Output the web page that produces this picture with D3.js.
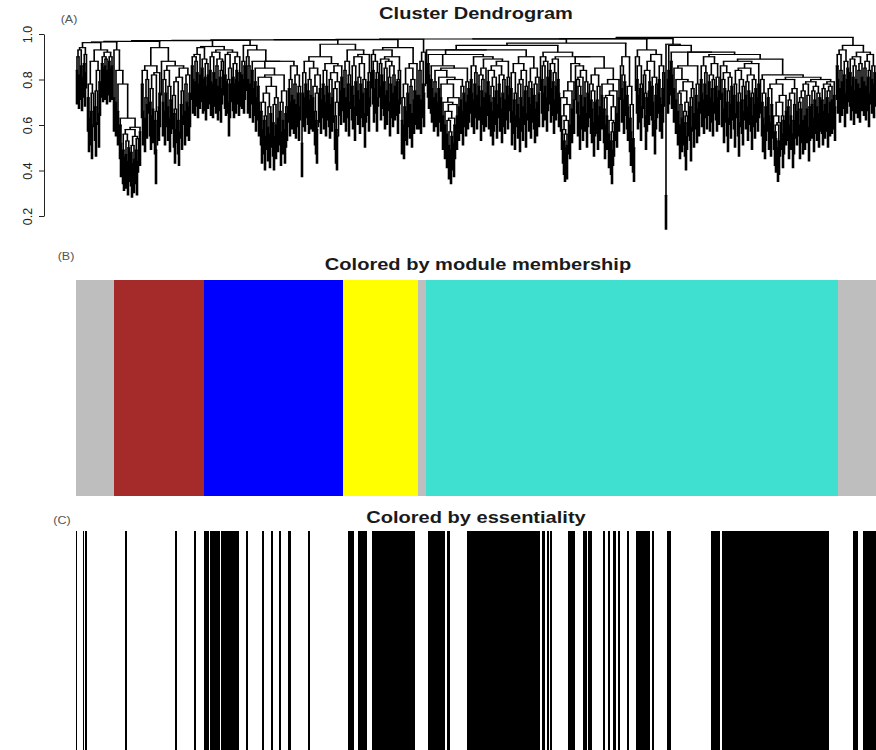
<!DOCTYPE html>
<html>
<head>
<meta charset="utf-8">
<script src="https://cdn.jsdelivr.net/npm/d3@7"></script>
<style>
  body { margin: 0; background: #fff; }
  svg { display: block; }
  text { font-family: "Liberation Sans", Arial, Helvetica, sans-serif; }
</style>
</head>
<body>
<svg id="chart" width="876" height="750"></svg>
<script>
// Height at which each pair of neighbouring genes (in dendrogram order) is joined.
const mergeHeights = [
  // genes 0-36
  0.84, 0.90, 0.82, 0.93, 0.86, 0.81, 0.94, 0.87, 0.83, 0.91, 0.962,
  0.72, 0.63, 0.78, 0.66, 0.60, 0.74, 0.88, 0.68, 0.61, 0.75, 0.84, 0.65, 0.79, 0.93,
  0.87, 0.85, 0.90, 0.86, 0.89, 0.84, 0.92, 0.88, 0.85, 0.90, 0.86, 0.965,
  // genes 37-114
  0.72, 0.93, 0.70, 0.84, 0.66, 0.78, 0.60, 0.52, 0.63, 0.49, 0.46, 0.56, 0.47, 0.53, 0.44, 0.50, 0.58, 0.48, 0.43, 0.51,
  0.45, 0.55, 0.49, 0.44, 0.54, 0.59, 0.57, 0.968,
  0.78, 0.66, 0.84, 0.63, 0.72, 0.69, 0.80, 0.86, 0.70, 0.64, 0.76, 0.67, 0.82, 0.62, 0.49, 0.66, 0.83, 0.68, 0.74, 0.94,
  0.88, 0.70, 0.80, 0.66, 0.74, 0.84, 0.68, 0.77, 0.63, 0.71, 0.86, 0.73, 0.65, 0.58, 0.67, 0.79, 0.62, 0.57, 0.81, 0.69,
  0.64, 0.75, 0.85, 0.66, 0.78, 0.70, 0.82, 0.68, 0.74, 0.971,
  // genes 115-169
  0.86, 0.80, 0.90, 0.79, 0.88, 0.83, 0.78, 0.91, 0.82, 0.94, 0.85, 0.80, 0.89, 0.81, 0.77, 0.87, 0.82, 0.945, 0.84, 0.79,
  0.90, 0.78, 0.83, 0.92, 0.80, 0.86, 0.77, 0.89, 0.81, 0.76, 0.84, 0.88, 0.93, 0.82, 0.79, 0.91, 0.80, 0.70, 0.78, 0.85,
  0.92, 0.81, 0.78, 0.87, 0.80, 0.84, 0.90, 0.79, 0.83, 0.972,
  0.82, 0.88, 0.80, 0.86, 0.95,
  // genes 170-224
  0.90, 0.80, 0.86, 0.78, 0.93, 0.84, 0.76, 0.88, 0.79, 0.72, 0.85, 0.77, 0.70, 0.81,
  0.66, 0.58, 0.70, 0.62, 0.55, 0.64, 0.74, 0.59, 0.68, 0.56, 0.65, 0.77, 0.61, 0.55, 0.69, 0.60, 0.72, 0.63, 0.82, 0.66,
  0.57, 0.70, 0.62, 0.75, 0.58, 0.65, 0.68, 0.88,
  0.76, 0.70, 0.80, 0.73, 0.86, 0.71, 0.78, 0.69, 0.82, 0.74, 0.68, 0.77, 0.974,
  // genes 225-294
  0.52, 0.74, 0.83, 0.72, 0.78, 0.88, 0.75, 0.71, 0.80, 0.73, 0.85, 0.72, 0.77, 0.66, 0.62, 0.58, 0.74, 0.82, 0.76, 0.71,
  0.90, 0.78, 0.73, 0.84, 0.70, 0.77, 0.87, 0.74, 0.69, 0.80, 0.72, 0.83, 0.76, 0.64, 0.58, 0.55, 0.70, 0.79, 0.86, 0.75,
  0.81, 0.955,
  0.76, 0.84, 0.72, 0.88, 0.78, 0.70, 0.82, 0.93, 0.77, 0.73, 0.86, 0.68, 0.79, 0.90, 0.75, 0.81, 0.71, 0.78, 0.87, 0.74,
  0.80, 0.65, 0.76, 0.91, 0.79, 0.72, 0.83, 0.975,
  // genes 295-349
  0.91, 0.84, 0.76, 0.88, 0.80, 0.72, 0.83, 0.93, 0.87, 0.77, 0.82, 0.89, 0.79, 0.73, 0.85, 0.75, 0.88, 0.81, 0.70, 0.78,
  0.86, 0.74, 0.82, 0.77, 0.90, 0.79, 0.71, 0.80, 0.84, 0.94,
  0.62, 0.72, 0.60, 0.68, 0.78, 0.66, 0.74, 0.85, 0.69, 0.77, 0.65, 0.80, 0.71, 0.75, 0.87, 0.73, 0.977,
  0.73, 0.84, 0.71, 0.88, 0.78, 0.74, 0.92, 0.978,
  // genes 350-463
  0.93, 0.87, 0.82, 0.91, 0.80, 0.76, 0.86, 0.72, 0.79, 0.74, 0.84, 0.70, 0.76, 0.81, 0.72, 0.78,
  0.64, 0.70, 0.60, 0.66, 0.56, 0.62, 0.51, 0.57, 0.49, 0.55, 0.63, 0.52, 0.60, 0.69, 0.64, 0.72,
  0.68, 0.80, 0.71, 0.77, 0.66, 0.74, 0.85, 0.70, 0.79, 0.73, 0.76, 0.91,
  0.80, 0.74, 0.86, 0.71, 0.78, 0.83, 0.73, 0.90, 0.77, 0.82, 0.68, 0.75, 0.80, 0.72, 0.85, 0.74, 0.89, 0.79, 0.73, 0.84,
  0.70, 0.77, 0.66, 0.72, 0.81, 0.75, 0.69, 0.86, 0.78, 0.72, 0.82, 0.67, 0.74, 0.80, 0.71, 0.88, 0.77, 0.73, 0.81, 0.93,
  0.76, 0.66, 0.83, 0.71, 0.64, 0.74, 0.87, 0.69, 0.78, 0.63, 0.72, 0.80, 0.68, 0.84, 0.75, 0.65, 0.77, 0.90, 0.72, 0.79,
  0.69, 0.76, 0.85, 0.73, 0.67, 0.78, 0.70, 0.81, 0.74, 0.95,
  // genes 464-558
  0.90, 0.80, 0.74, 0.86, 0.77, 0.88, 0.72, 0.81, 0.92, 0.84, 0.76, 0.87, 0.79, 0.71, 0.83, 0.77, 0.89, 0.80, 0.74, 0.90,
  0.72, 0.64, 0.58, 0.53, 0.50, 0.56, 0.51, 0.62, 0.69, 0.60, 0.75, 0.67, 0.79, 0.71, 0.87,
  0.86, 0.80, 0.70, 0.77, 0.64, 0.73, 0.81, 0.68, 0.84, 0.72, 0.79, 0.65, 0.74, 0.90, 0.78, 0.71, 0.67, 0.75, 0.61, 0.70,
  0.82, 0.71, 0.64, 0.77, 0.68, 0.85, 0.73, 0.78, 0.67, 0.60, 0.72, 0.64, 0.73, 0.56, 0.62, 0.53, 0.49, 0.57, 0.61, 0.68,
  0.75, 0.65, 0.80, 0.72, 0.96,
  0.86, 0.76, 0.82, 0.71, 0.79, 0.90, 0.73, 0.68, 0.77, 0.63, 0.57, 0.69, 0.54, 0.50, 0.979,
  // genes 559-643
  0.90, 0.80, 0.73, 0.86, 0.76, 0.68, 0.78, 0.93, 0.82, 0.74, 0.64, 0.72, 0.84, 0.75, 0.79, 0.88, 0.77, 0.70, 0.81, 0.62,
  0.73, 0.78, 0.91, 0.80, 0.72, 0.86, 0.69, 0.76, 0.83, 0.980,
  0.29, 0.955, 0.80, 0.84, 0.95,
  0.88, 0.82, 0.92, 0.76, 0.85, 0.71, 0.80, 0.66, 0.74, 0.60, 0.69, 0.63, 0.75, 0.66, 0.61, 0.55, 0.64, 0.70, 0.79, 0.68,
  0.59, 0.72, 0.76, 0.65, 0.86, 0.73, 0.67, 0.78, 0.70, 0.92,
  0.80, 0.74, 0.86, 0.71, 0.78, 0.83, 0.73, 0.90, 0.79, 0.72, 0.82, 0.76, 0.70, 0.80, 0.87, 0.77, 0.72, 0.81, 0.75, 0.91,
  // genes 644-759
  0.86, 0.74, 0.80, 0.67, 0.76, 0.83, 0.70, 0.63, 0.75, 0.81, 0.69, 0.77, 0.88, 0.73, 0.65, 0.78, 0.84, 0.70, 0.61, 0.74,
  0.80, 0.71, 0.66, 0.77, 0.85, 0.73, 0.79, 0.68, 0.75, 0.82, 0.72, 0.64, 0.74, 0.80, 0.69, 0.76, 0.87, 0.72, 0.78, 0.89,
  0.80, 0.70, 0.63, 0.74, 0.60, 0.68, 0.82, 0.72, 0.64, 0.76, 0.61, 0.69, 0.78, 0.64, 0.57, 0.54, 0.60, 0.50, 0.53, 0.61,
  0.70, 0.64, 0.56, 0.62, 0.73, 0.66, 0.80, 0.68, 0.60, 0.71, 0.64, 0.74, 0.56, 0.62, 0.69, 0.76, 0.66, 0.81, 0.70, 0.60,
  0.67, 0.72, 0.62, 0.75, 0.64, 0.78, 0.67, 0.73, 0.59, 0.68, 0.79, 0.69, 0.75, 0.63, 0.71, 0.77, 0.68, 0.74, 0.65, 0.72,
  0.80, 0.71, 0.66, 0.76, 0.69, 0.78, 0.72, 0.65, 0.75, 0.70, 0.77, 0.71, 0.79, 0.73, 0.68, 0.985,
  // genes 760-799
  0.86, 0.80, 0.91, 0.76, 0.84, 0.79, 0.93, 0.82, 0.74, 0.88, 0.80, 0.85, 0.95, 0.83, 0.77, 0.89, 0.81, 0.75, 0.86, 0.80,
  0.90, 0.78, 0.84, 0.76, 0.87, 0.81, 0.92, 0.79, 0.85, 0.77, 0.88, 0.81, 0.74, 0.84, 0.91, 0.80, 0.86, 0.78, 0.83
];

// Module of each run of genes (WGCNA module names are colour names).
const moduleNames = ["grey", "brown", "blue", "yellow", "grey", "turquoise", "grey"];
const moduleFirst = [0, 38, 128, 267, 342, 350, 762];
const moduleLast  = [37, 127, 266, 341, 349, 761, 799];

// Runs of essential genes, [first, last] in dendrogram order.
const essentialRuns = [
  [0, 0], [7, 7], [9, 10], [49, 50], [99, 100], [118, 119], [128, 132], [134, 143], [145, 162],
  [170, 171], [186, 187], [195, 196], [203, 204], [212, 214], [232, 233],
  [272, 277], [282, 290], [296, 338], [352, 368], [371, 373], [391, 463],
  [466, 468], [471, 472], [474, 475], [492, 498], [507, 510], [512, 515],
  [527, 528], [532, 533], [537, 539], [542, 543], [551, 552], [560, 573], [576, 577],
  [591, 594], [635, 643], [646, 752], [777, 781], [787, 799]
];

const heightTicks = [0.2, 0.4, 0.6, 0.8, 1.0];
const panelTitles = ["Cluster Dendrogram", "Colored by module membership", "Colored by essentiality"];
const panelTags = ["(A)", "(B)", "(C)"];

const nGenes = mergeHeights.length + 1;
const hang = 0.15;   // how far each gene's leaf line drops below its join

const svg = d3.select("#chart");
const x = d3.scaleLinear().domain([0, nGenes]).range([76, 876]);
const y = d3.scaleLinear().domain([0.2, 1.0]).range([216, 34]);
const moduleColor = d3.scaleOrdinal()
  .domain(["grey", "brown", "blue", "yellow", "turquoise"])
  .range(["#bebebe", "#a52a2a", "#0000ff", "#ffff00", "#40e0d0"]);

// Build the ordered tree: the highest join between neighbours splits a range in two.
function build(lo, hi) {
  if (lo === hi) return { gene: lo };
  let k = lo;
  for (let i = lo; i < hi; i++) if (mergeHeights[i] > mergeHeights[k]) k = i;
  return { height: mergeHeights[k], children: [build(lo, k), build(k + 1, hi)] };
}
const root = d3.hierarchy(build(0, nGenes - 1));
root.eachAfter(n => {
  if (n.children) {
    n.px = (n.children[0].px + n.children[1].px) / 2;
    n.h = n.data.height;
  } else {
    n.px = x(n.data.gene + 0.5);
    n.h = n.parent.data.height - hang;
  }
});

const joins = [];
root.each(n => { if (n.children) joins.push(n); });

const tree = svg.append("g").attr("fill", "none").attr("stroke", "#000");

// Vertical drops from each join to its two branches
tree.append("g")
  .attr("stroke-width", 1.6)
  .selectAll("path")
  .data(joins)
  .join("path")
  .attr("d", n => {
    const [a, b] = n.children;
    return `M${a.px},${y(a.h)}V${y(n.h)}M${b.px},${y(n.h)}V${y(b.h)}`;
  });

// Horizontal bar of each join
tree.append("g")
  .attr("stroke-width", 1.2)
  .selectAll("path")
  .data(joins)
  .join("path")
  .attr("d", n => `M${n.children[0].px - 0.8},${y(n.h)}H${n.children[1].px + 0.8}`);

// Height axis
const axis = svg.append("g")
  .attr("transform", "translate(44,0)")
  .call(d3.axisLeft(y).tickValues(heightTicks).tickFormat(d3.format(".1f")).tickSize(5).tickSizeOuter(0));
axis.select(".domain").attr("stroke", "#222");
axis.selectAll(".tick line").attr("stroke", "#222");
axis.selectAll(".tick text")
  .attr("transform", "rotate(-90)")
  .attr("x", 0)
  .attr("y", -16)
  .attr("dy", "0.32em")
  .attr("text-anchor", "middle")
  .attr("font-size", 12.5)
  .attr("fill", "#222");

// Module colour bar
svg.append("g")
  .selectAll("rect")
  .data(moduleNames.map((m, i) => ({ m, a: moduleFirst[i], b: moduleLast[i] })))
  .join("rect")
  .attr("x", d => x(d.a))
  .attr("width", d => x(d.b + 1) - x(d.a))
  .attr("y", 280)
  .attr("height", 216)
  .attr("fill", d => moduleColor(d.m));

// Essentiality bar
svg.append("g")
  .selectAll("rect")
  .data(essentialRuns)
  .join("rect")
  .attr("x", d => x(d[0]))
  .attr("width", d => x(d[1] + 1) - x(d[0]))
  .attr("y", 531)
  .attr("height", 219)
  .attr("fill", "#000");

// Titles and panel tags
const titlePos = [[476, 19], [478, 270], [476, 523]];
svg.append("g")
  .selectAll("text")
  .data(panelTitles)
  .join("text")
  .attr("transform", (d, i) => `translate(${titlePos[i][0]},${titlePos[i][1]}) scale(1.18,1)`)
  .attr("text-anchor", "middle")
  .attr("font-size", 17)
  .attr("font-weight", "bold")
  .attr("fill", "#1a1a1a")
  .text(d => d);

const tagPos = [[69, 23], [66, 260], [62, 524]];
svg.append("g")
  .selectAll("text")
  .data(panelTags)
  .join("text")
  .attr("transform", (d, i) => `translate(${tagPos[i][0]},${tagPos[i][1]}) scale(1.25,1)`)
  .attr("text-anchor", "middle")
  .attr("font-size", 10)
  .attr("fill", "#555")
  .text(d => d);
</script>
</body>
</html>
